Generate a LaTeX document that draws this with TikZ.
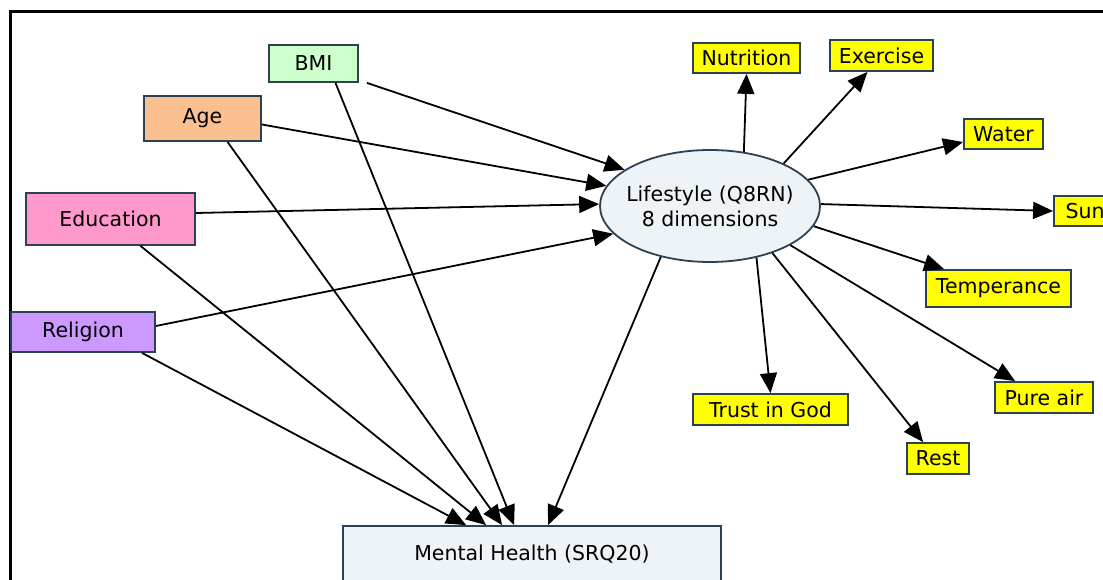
\documentclass[tikz,border=0pt]{standalone}
\usepackage{fontspec}
\setmainfont{DejaVu Sans}
\usepackage{xcolor}
\usetikzlibrary{shapes,arrows.meta,positioning}

\definecolor{bmigreen}{RGB}{204,255,204}
\definecolor{agepeach}{RGB}{250,192,144}
\definecolor{edupink}{RGB}{255,153,204}
\definecolor{relpurple}{RGB}{204,153,255}
\definecolor{paleblue}{RGB}{237,243,246}
\definecolor{dimyellow}{RGB}{255,255,0}
\definecolor{boxedge}{RGB}{45,65,85}

\begin{document}
\begin{tikzpicture}[
    x=1pt, y=-1pt,
    font=\fontsize{20.5}{25}\selectfont,
    factor/.style={draw=boxedge, line width=1.8pt, rectangle, inner sep=0pt, align=center},
    dim/.style={draw=boxedge, line width=1.8pt, rectangle, fill=dimyellow, inner sep=0pt},
    construct/.style={draw=boxedge, line width=1.8pt, fill=paleblue, inner sep=0pt, align=center},
    arrow/.style={-{Triangle[length=20pt,width=17pt]}, line width=1.8pt}
]
    \useasboundingbox (0,0) rectangle (1103,580);
    \clip (0,0) rectangle (1103,580);
    \fill[white] (0,0) rectangle (1103,580);
    \draw[line width=3pt] (10,700) -- (10,12) -- (1200,12);

    % background factors
    \node[factor, fill=bmigreen, minimum width=89pt, minimum height=37pt] (bmi) at (313.5,63.5) {BMI};
    \node[factor, fill=agepeach, minimum width=117pt, minimum height=45pt] (age) at (202.5,118.5) {Age};
    \node[factor, fill=edupink, minimum width=169pt, minimum height=52pt] (edu) at (110.5,219) {Education};
    \node[factor, fill=relpurple, minimum width=144pt, minimum height=40pt] (rel) at (83,332) {Religion};

    % lifestyle and outcome
    \node[construct, ellipse, minimum width=220pt, minimum height=112pt, inner xsep=-6pt] (life) at (710,206) {Lifestyle (Q8RN)\\8 dimensions};
    \node[construct, rectangle, minimum width=378pt, minimum height=56pt] (mh) at (532,554) {Mental Health (SRQ20)};

    % the 8 dimensions
    \node[dim, minimum width=107pt, minimum height=30pt] (nut) at (746.5,58) {Nutrition};
    \node[dim, minimum width=103pt, minimum height=31pt] (exer) at (881.5,55.5) {Exercise};
    \node[dim, minimum width=79pt, minimum height=30pt] (water) at (1003.5,134) {Water};
    \node[dim, minimum width=62pt, minimum height=30pt] (sun) at (1085,211) {Sun};
    \node[dim, minimum width=145pt, minimum height=37pt] (temp) at (998.5,288.5) {Temperance};
    \node[dim, minimum width=98pt, minimum height=31pt] (pure) at (1044,397.5) {Pure air};
    \node[dim, minimum width=155pt, minimum height=31pt] (trust) at (770.5,409.5) {Trust in God};
    \node[dim, minimum width=62pt, minimum height=31pt] (rest) at (938,458.5) {Rest};

    \draw[arrow] ([xshift=8pt]bmi.south east) -- (life.157);
    \draw[arrow] ([yshift=-6pt]age.east) -- (life.169);
    \draw[arrow] ([yshift=6pt]edu.east) -- (life.179);
    \draw[arrow] ([yshift=6pt]rel.east) -- (life.196);

    \draw[arrow] ([xshift=22pt]bmi.south) -- ([xshift=172pt]mh.north west);
    \draw[arrow] ([xshift=25pt]age.south) -- ([xshift=160pt]mh.north west);
    \draw[arrow] ([xshift=30pt]edu.south) -- ([xshift=144pt]mh.north west);
    \draw[arrow] ([xshift=59pt]rel.south) -- ([xshift=124pt]mh.north west);
    \draw[arrow] (life.226) -- ([xshift=206pt]mh.north west);

    \draw[arrow] (life.58) -- (nut.south);
    \draw[arrow] (life.30) -- ([xshift=-14pt]exer.south);
    \draw[arrow] (life.15) -- ([yshift=-8pt]water.west);
    \draw[arrow] (life.1) -- (sun.west);
    \draw[arrow] (life.349) -- ([xshift=19pt]temp.north west);
    \draw[arrow] (life.334) -- ([xshift=21pt]pure.north west);
    \draw[arrow] (life.323) -- ([xshift=17pt]rest.north west);
    \draw[arrow] (life.312) -- (trust.north);
\end{tikzpicture}
\end{document}
